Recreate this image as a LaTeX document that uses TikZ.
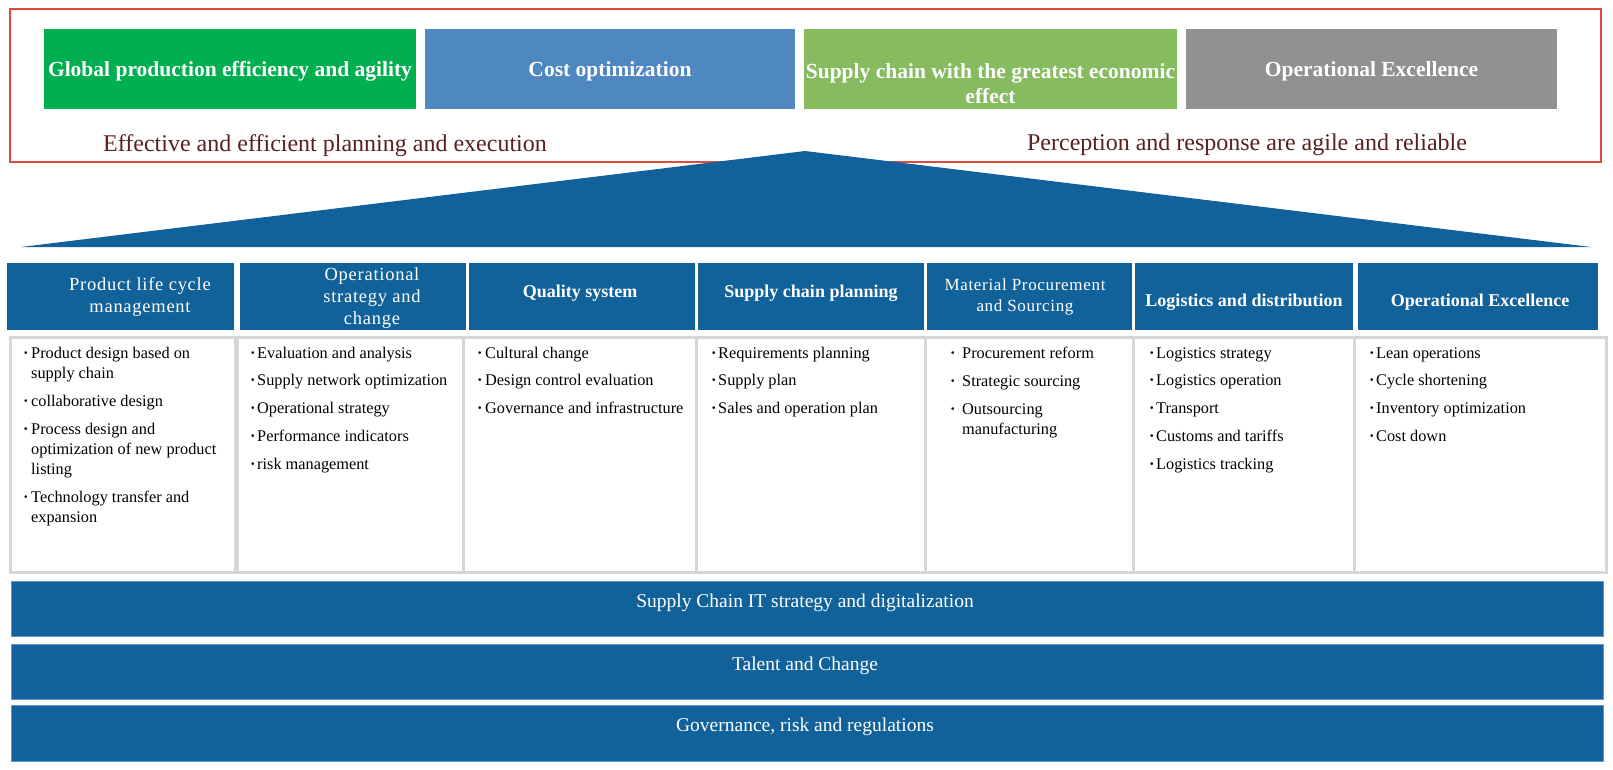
\documentclass[tikz,border=0pt]{standalone}
\usepackage{fontspec}
\setmainfont{Liberation Serif}
\newfontfamily\spacedfont[LetterSpace=4]{Liberation Serif}
\definecolor{dblue}{RGB}{17,97,154}
\definecolor{barline}{RGB}{95,150,200}
\definecolor{gGreen}{RGB}{0,176,80}
\definecolor{gBlue}{RGB}{79,135,193}
\definecolor{gLgreen}{RGB}{134,187,96}
\definecolor{gGray}{RGB}{145,145,145}
\definecolor{frameRed}{RGB}{226,72,62}
\definecolor{subBrown}{RGB}{88,32,32}
\definecolor{cellGray}{RGB}{214,214,214}
\tikzset{
  box/.style={rectangle, inner sep=0pt, outer sep=0pt, draw=none},
  topbox/.style={box, text=white, font=\fontsize{21.5}{25}\selectfont\bfseries, align=center},
  hdrbox/.style={box, fill=dblue},
  hdrbold/.style={text=white, inner sep=0pt, align=center, font=\fontsize{18}{22}\selectfont\bfseries},
  hdrreg/.style={text=white, inner sep=0pt, align=center, font=\fontsize{18.5}{22}\selectfont\spacedfont},
  cellbox/.style={rectangle, inner sep=0pt, outer sep=0pt, fill=white, draw=cellGray, line width=3pt},
  barbox/.style={box, fill=dblue, draw=barline, line width=1pt},
  bartext/.style={text=white, inner sep=0pt, font=\fontsize{19.5}{22}\selectfont},
  subtitle/.style={text=subBrown, inner sep=0pt, font=\fontsize{24}{26}\selectfont},
  itm/.style={anchor=base west, inner sep=0pt, font=\fontsize{16.3}{19}\selectfont},
  bul/.style={anchor=base west, inner sep=0pt, font=\fontsize{16.3}{19}\selectfont\bfseries},
}
\begin{document}
\begin{tikzpicture}[x=1pt,y=-1pt]
\useasboundingbox (0,0) rectangle (1613,770);
% top frame
\node[box, draw=frameRed, line width=1.5pt, minimum width=1591pt, minimum height=153pt] (frame) at (805.5,85.5) {};
% goal boxes
\node[topbox, fill=gGreen, minimum width=372pt, minimum height=80pt] (g1) at (230,69) {};
\node[topbox, fill=gBlue, minimum width=370pt, minimum height=80pt] (g2) at (610,69) {};
\node[topbox, fill=gLgreen, minimum width=373pt, minimum height=80pt] (g3) at (990.5,69) {};
\node[topbox, fill=gGray, minimum width=371pt, minimum height=80pt] (g4) at (1371.5,69) {};
\node[topbox] (g1t) at (230,71) {Global production efficiency and agility};
\node[topbox] (g2t) at (610,71) {Cost optimization};
\node[topbox] (g3t) at (990.5,84) {Supply chain with the greatest economic\\effect};
\node[topbox] (g4t) at (1371.5,71) {Operational Excellence};
% subtitles
\node[subtitle] (s1) at (325,146) {Effective and efficient planning and execution};
\node[subtitle] (s2) at (1247,145) {Perception and response are agile and reliable};
% roof
\coordinate (rl) at (21,247);
\coordinate (rt) at (805,151);
\coordinate (rr) at (1591,247);
\fill[dblue] (rl) -- (rt) -- (rr) -- cycle;
% header boxes
\node[hdrbox, minimum width=227pt, minimum height=67pt] (h1) at (120.5,296.5) {};
\node[hdrbox, minimum width=226pt, minimum height=67pt] (h2) at (353,296.5) {};
\node[hdrbox, minimum width=226pt, minimum height=67pt] (h3) at (582,296.5) {};
\node[hdrbox, minimum width=226pt, minimum height=67pt] (h4) at (811,296.5) {};
\node[hdrbox, minimum width=205pt, minimum height=67pt] (h5) at (1029.5,296.5) {};
\node[hdrbox, minimum width=218pt, minimum height=67pt] (h6) at (1244,296.5) {};
\node[hdrbox, minimum width=240pt, minimum height=67pt] (h7) at (1478,296.5) {};
\node[hdrreg] (h1t) at (140,297) {Product life cycle\\management};
\node[hdrreg] (h2t) at (372,298) {Operational\\strategy and\\change};
\node[hdrbold] (h3t) at (580,293) {Quality system};
\node[hdrbold] (h4t) at (811,293) {Supply chain planning};
\node[hdrreg, font=\fontsize{17}{21}\selectfont\spacedfont] (h5t) at (1025,297) {Material Procurement\\and Sourcing};
\node[hdrbold] (h6t) at (1244,302) {Logistics and distribution};
\node[hdrbold] (h7t) at (1480,302) {Operational Excellence};
% body cells
\node[cellbox, minimum width=225pt, minimum height=235pt] (c1) at (122.5,454.5) {};
\node[cellbox, minimum width=226pt, minimum height=235pt] (c2) at (350,454.5) {};
\node[cellbox, minimum width=233pt, minimum height=235pt] (c3) at (579.5,454.5) {};
\node[cellbox, minimum width=229pt, minimum height=235pt] (c4) at (810.5,454.5) {};
\node[cellbox, minimum width=208pt, minimum height=235pt] (c5) at (1029,454.5) {};
\node[cellbox, minimum width=221pt, minimum height=235pt] (c6) at (1243.5,454.5) {};
\node[cellbox, minimum width=252pt, minimum height=235pt] (c7) at (1480,454.5) {};
% column 1
\node[bul] (c1b1) at (23,358) {·};
\node[itm] (c1l1) at (31,358) {Product design based on};
\node[itm] (c1l2) at (31,378) {supply chain};
\node[bul] (c1b2) at (23,406) {·};
\node[itm] (c1l3) at (31,406) {collaborative design};
\node[bul] (c1b3) at (23,434) {·};
\node[itm] (c1l4) at (31,434) {Process design and};
\node[itm] (c1l5) at (31,454) {optimization of new product};
\node[itm] (c1l6) at (31,474) {listing};
\node[bul] (c1b4) at (23,502) {·};
\node[itm] (c1l7) at (31,502) {Technology transfer and};
\node[itm] (c1l8) at (31,522) {expansion};
% column 2
\foreach \t [count=\i] in {Evaluation and analysis, Supply network optimization, Operational strategy, Performance indicators, risk management}{
  \node[bul] (c2b\i) at (250,{358+27.75*(\i-1)}) {·};
  \node[itm] (c2l\i) at (257,{358+27.75*(\i-1)}) {\t};
}
% column 3
\foreach \t [count=\i] in {Cultural change, Design control evaluation, Governance and infrastructure}{
  \node[bul] (c3b\i) at (477,{358+27.75*(\i-1)}) {·};
  \node[itm] (c3l\i) at (485,{358+27.75*(\i-1)}) {\t};
}
% column 4
\foreach \t [count=\i] in {Requirements planning, Supply plan, Sales and operation plan}{
  \node[bul] (c4b\i) at (711,{358+27.75*(\i-1)}) {·};
  \node[itm] (c4l\i) at (718,{358+27.75*(\i-1)}) {\t};
}
% column 5
\node[bul] (c5b1) at (950,358) {·};
\node[itm] (c5l1) at (962,358) {Procurement reform};
\node[bul] (c5b2) at (950,386) {·};
\node[itm] (c5l2) at (962,386) {Strategic sourcing};
\node[bul] (c5b3) at (950,414) {·};
\node[itm] (c5l3) at (962,414) {Outsourcing};
\node[itm] (c5l4) at (962,434) {manufacturing};
% column 6
\foreach \t [count=\i] in {Logistics strategy, Logistics operation, Transport, Customs and tariffs, Logistics tracking}{
  \node[bul] (c6b\i) at (1149,{358+27.75*(\i-1)}) {·};
  \node[itm] (c6l\i) at (1156,{358+27.75*(\i-1)}) {\t};
}
% column 7
\foreach \t [count=\i] in {Lean operations, Cycle shortening, Inventory optimization, Cost down}{
  \node[bul] (c7b\i) at (1369,{358+27.75*(\i-1)}) {·};
  \node[itm] (c7l\i) at (1376,{358+27.75*(\i-1)}) {\t};
}
% foundation bars
\node[barbox, minimum width=1592pt, minimum height=55pt] (b1) at (807,608.5) {};
\node[barbox, minimum width=1592pt, minimum height=55pt] (b2) at (807,671.5) {};
\node[barbox, minimum width=1592pt, minimum height=56pt] (b3) at (807,733) {};
\node[bartext] (b1t) at (805,603) {Supply Chain IT strategy and digitalization};
\node[bartext] (b2t) at (805,666) {Talent and Change};
\node[bartext] (b3t) at (805,727) {Governance, risk and regulations};
\end{tikzpicture}
\end{document}
